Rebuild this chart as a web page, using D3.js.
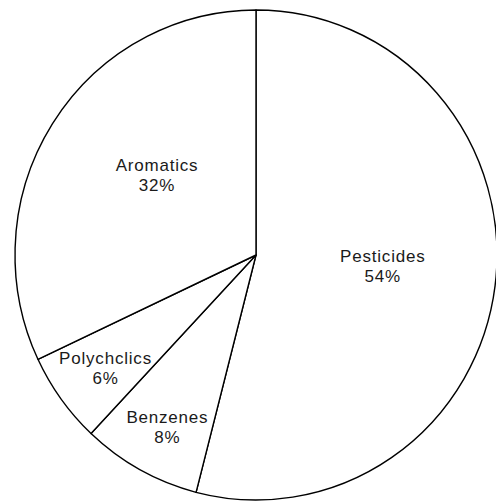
<!DOCTYPE html>
<html><head><meta charset="utf-8">
<script src="https://cdn.jsdelivr.net/npm/d3@7"></script>
<style>body{margin:0;background:#fff}svg{display:block}</style>
</head><body>
<svg id="c" width="496" height="502"></svg>
<script>
const categories = ["Pesticides", "Benzenes", "Polychclics", "Aromatics"];
const values = [54, 8, 6, 32];
const valueLabels = ["54%", "8%", "6%", "32%"];

// layout (not data)
const cx = 256, cy = 255, rx = 241, ry = 245;
const labelRadius = [127, 190, 186, 130];
const labelAngleShift = [-4, -1, 0, 8]; // degrees

const svg = d3.select("#c");
const data = categories.map((c, i) => ({cat: c, value: values[i], label: valueLabels[i]}));
const pie = d3.pie().sort(null).value(d => d.value)(data);
const arc = d3.arc().innerRadius(0).outerRadius(ry);

const g = svg.append("g").attr("transform", `translate(${cx},${cy}) scale(${rx/ry},1)`);
g.selectAll("path").data(pie).join("path")
  .attr("d", arc)
  .attr("fill", "#fff")
  .attr("stroke", "#000")
  .attr("stroke-width", 1.4)
  .attr("stroke-linejoin", "round")
  .attr("vector-effect", "non-scaling-stroke");

const t = svg.append("g").attr("transform", `translate(${cx},${cy})`);
pie.forEach((p, i) => {
  const a = (p.startAngle + p.endAngle) / 2 + labelAngleShift[i] * Math.PI / 180;
  const x = Math.sin(a) * labelRadius[i];
  const y = -Math.cos(a) * labelRadius[i];
  const txt = t.append("text")
    .attr("x", x).attr("y", y)
    .attr("text-anchor", "middle")
    .attr("font-family", "Liberation Sans, Arial, sans-serif")
    .attr("font-size", 17)
    .attr("letter-spacing", 0.8)
    .attr("fill", "#1a1a1a");
  txt.append("tspan").attr("x", x).attr("dy", 0).text(p.data.cat);
  txt.append("tspan").attr("x", x).attr("dy", 20).text(p.data.label);
});
</script>
</body></html>
